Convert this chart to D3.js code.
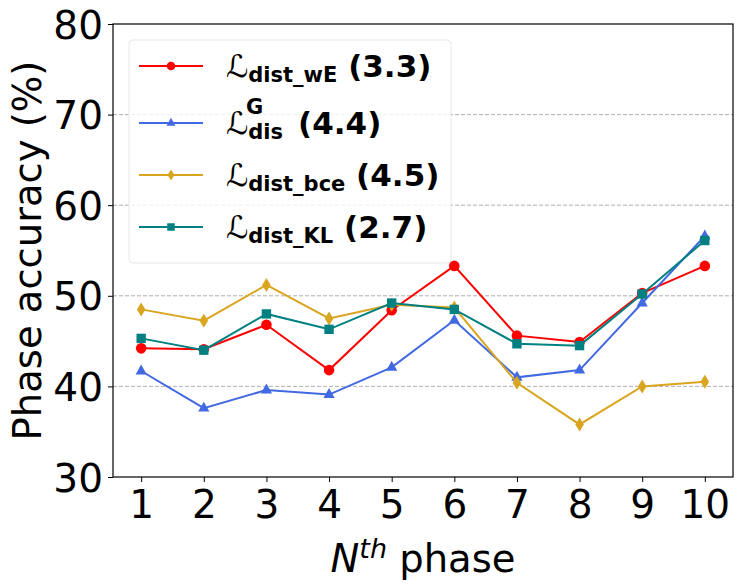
<!DOCTYPE html>
<html>
<head>
<meta charset="utf-8">
<script src="https://cdn.jsdelivr.net/npm/d3@7"></script>
<style>
  body { margin: 0; background: #fff; }
  text { font-family: "DejaVu Sans", sans-serif; }
</style>
</head>
<body>
<div id="chart"></div>
<script>
// data
var phases = [1, 2, 3, 4, 5, 6, 7, 8, 9, 10];
var distWE  = [44.2, 44.1, 46.8, 41.8, 48.4, 53.3, 45.6, 44.9, 50.3, 53.3];
var disG    = [41.7, 37.6, 39.6, 39.1, 42.1, 47.3, 41.0, 41.8, 49.2, 56.6];
var distBce = [48.5, 47.25, 51.2, 47.5, 49.0, 48.7, 40.4, 35.8, 40.0, 40.5];
var distKL  = [45.3, 44.0, 48.0, 46.3, 49.2, 48.5, 44.7, 44.5, 50.2, 56.1];
var yTicks = [30, 40, 50, 60, 70, 80];

var series = [
  {sub: "dist_wE", sup: null, score: "(3.3)", values: distWE, color: "red", marker: "circle"},
  {sub: "dis", sup: "G", score: "(4.4)", values: disG, color: "royalblue", marker: "triangle"},
  {sub: "dist_bce", sup: null, score: "(4.5)", values: distBce, color: "goldenrod", marker: "diamond"},
  {sub: "dist_KL", sup: null, score: "(2.7)", values: distKL, color: "teal", marker: "square"}
];

// set the dimensions and margins of the graph
var margin = {top: 24, right: 13, bottom: 111, left: 113},
    width = 746 - margin.left - margin.right,
    height = 588 - margin.top - margin.bottom;

var svg = d3.select("#chart")
  .append("svg")
    .attr("width", 746)
    .attr("height", 588)
  .append("g")
    .attr("transform", "translate(" + margin.left + "," + margin.top + ")");

var x = d3.scaleLinear()
  .domain([0.55, 10.45])
  .range([0, width]);

var y = d3.scaleLinear()
  .domain([30, 80])
  .range([height, 0]);

// grid lines
svg.append("g")
  .selectAll("line")
  .data(yTicks.slice(1, -1))
  .enter()
  .append("line")
    .attr("x1", 0)
    .attr("x2", width)
    .attr("y1", function(d) { return y(d); })
    .attr("y2", function(d) { return y(d); })
    .attr("stroke", "#b0b0b0")
    .attr("stroke-width", 1)
    .attr("stroke-dasharray", "4,2");

// axes
var xAxis = svg.append("g")
  .attr("transform", "translate(0," + height + ")")
  .call(d3.axisBottom(x).tickValues(phases).tickSize(5).tickPadding(5).tickFormat(d3.format("d")));
var yAxis = svg.append("g")
  .call(d3.axisLeft(y).tickValues(yTicks).tickSize(5).tickPadding(5));

[xAxis, yAxis].forEach(function(a) {
  a.select(".domain").remove();
  a.selectAll("text").style("font-size", "39px").attr("fill", "#000");
  a.selectAll("line").attr("stroke", "#000").attr("stroke-width", 1);
});
xAxis.selectAll("text").attr("dy", "0.8em");
yAxis.selectAll("text").attr("dy", "0.36em");

// frame
svg.append("rect")
  .attr("width", width)
  .attr("height", height)
  .attr("fill", "none")
  .attr("stroke", "#000")
  .attr("stroke-width", 1.2);

var symbolType = {
  circle: d3.symbolCircle,
  square: d3.symbolSquare
};
function drawMarker(g, kind, color) {
  if (kind === "diamond") {
    g.append("path").attr("d", "M0,-7L4.3,0L0,7L-4.3,0Z").attr("fill", color);
  } else if (kind === "triangle") {
    g.append("path").attr("d", "M0,-6.5L5.6,3.4L-5.6,3.4Z").attr("fill", color);
  } else {
    g.append("path").attr("d", d3.symbol().type(symbolType[kind]).size(88)()).attr("fill", color);
  }
}

var line = d3.line()
  .x(function(d, i) { return x(phases[i]); })
  .y(function(d) { return y(d); });

series.forEach(function(s) {
  svg.append("path")
    .datum(s.values)
    .attr("d", line)
    .attr("fill", "none")
    .attr("stroke", s.color)
    .attr("stroke-width", 2);
  s.values.forEach(function(v, i) {
    var g = svg.append("g").attr("transform", "translate(" + x(phases[i]) + "," + y(v) + ")");
    drawMarker(g, s.marker, s.color);
  });
});

// legend
var legend = svg.append("g").attr("transform", "translate(16,16)");
legend.append("rect")
  .attr("width", 322)
  .attr("height", 223)
  .attr("rx", 4)
  .attr("fill", "#fff")
  .attr("fill-opacity", 0.8)
  .attr("stroke", "#e8e8e8")
  .attr("stroke-width", 1);

var rowY = [26, 83, 135, 187];
series.forEach(function(s, i) {
  var row = legend.append("g").attr("transform", "translate(0," + rowY[i] + ")");
  row.append("line")
    .attr("x1", 10).attr("x2", 74)
    .attr("stroke", s.color).attr("stroke-width", 2);
  var m = row.append("g").attr("transform", "translate(42,0) scale(0.8)");
  drawMarker(m, s.marker, s.color);

  var t = row.append("text")
    .attr("x", 97)
    .attr("y", 11)
    .attr("font-weight", "bold")
    .style("font-size", "31px")
    .attr("fill", "#000");
  t.append("tspan").attr("font-weight", "normal").attr("font-style", "italic").text("\u2112");
  if (s.sup) {
    t.append("tspan").style("font-size", "21px").attr("dy", 5).text(s.sub);
    t.append("tspan").style("font-size", "21px").attr("dx", -37).attr("dy", -25).text(s.sup);
    t.append("tspan").attr("dx", 24).attr("dy", 20).text(" " + s.score);
  } else {
    t.append("tspan").style("font-size", "21px").attr("dy", 5).text(s.sub);
    t.append("tspan").attr("dy", -5).text(" " + s.score);
  }
});

// Y axis label
svg.append("text")
  .attr("text-anchor", "middle")
  .attr("transform", "rotate(-90)")
  .attr("x", -height / 2)
  .attr("y", -margin.left + 41)
  .style("font-size", "38.5px")
  .text("Phase accuracy (%)");

// X axis label
var xl = svg.append("text")
  .attr("text-anchor", "middle")
  .attr("x", width / 2)
  .attr("y", height + 95)
  .style("font-size", "38.5px");
xl.append("tspan").attr("font-style", "italic").text("N");
xl.append("tspan").attr("font-style", "italic").style("font-size", "27px").attr("dy", -14).text("th");
xl.append("tspan").attr("dy", 14).text(" phase");
</script>
</body>
</html>
